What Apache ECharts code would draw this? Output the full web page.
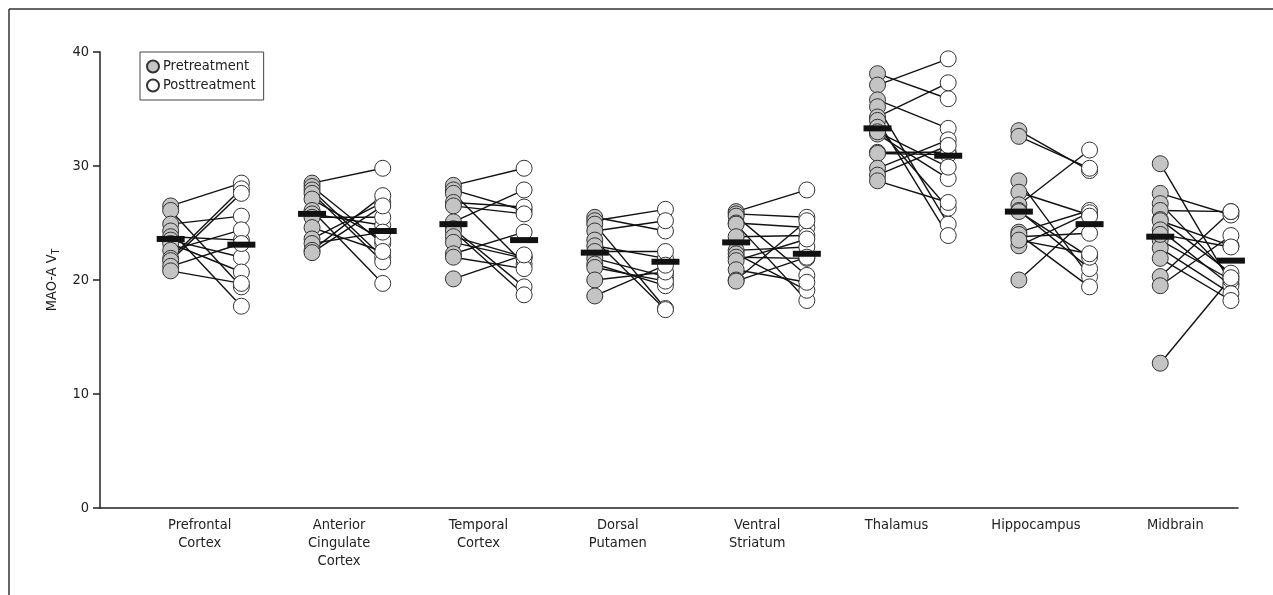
<!DOCTYPE html>
<html><head><meta charset="utf-8">
<script src="https://cdn.jsdelivr.net/npm/echarts@6/dist/echarts.min.js"></script>
<style>html,body{margin:0;padding:0;background:#fff}#c{width:1273px;height:595px}</style>
</head><body><div id="c"></div>
<script>
// ---- data ----
const regions = ['Prefrontal\nCortex', 'Anterior\nCingulate\nCortex', 'Temporal\nCortex', 'Dorsal\nPutamen',
  'Ventral\nStriatum', 'Thalamus', 'Hippocampus', 'Midbrain'];
const yTicks = [0, 10, 20, 30, 40];

const prefrontalPre  = [26.5, 26.1, 24.9, 24.3, 23.8, 23.5, 23.2, 22.6, 21.9, 21.7, 21.2, 20.8];
const prefrontalPost = [28.5, 19.4, 25.6, 17.7, 23.5, 22.0, 20.7, 24.4, 28.0, 27.6, 23.2, 19.7];

const cingulatePre  = [28.5, 28.2, 27.9, 27.6, 27.1, 26.1, 25.8, 25.5, 24.6, 23.6, 23.2, 22.6, 22.4];
const cingulatePost = [29.8, 23.2, 22.0, 21.6, 23.5, 19.7, 24.8, 25.5, 22.5, 26.8, 24.2, 27.4, 26.5];

const temporalPre  = [28.3, 27.9, 27.6, 26.8, 26.5, 25.1, 24.5, 24.3, 23.8, 23.3, 22.3, 22.0, 20.1];
const temporalPost = [29.8, 26.1, 21.4, 26.4, 25.8, 27.9, 19.4, 18.7, 22.0, 21.9, 24.2, 21.0, 22.2];

const putamenPre  = [25.5, 25.2, 24.9, 24.3, 23.5, 23.0, 22.5, 21.9, 21.4, 21.1, 20.0, 18.6];
const putamenPost = [24.3, 26.2, 17.5, 25.2, 17.4, 21.9, 22.5, 20.3, 19.5, 19.9, 20.7, 21.3];

const striatumPre  = [26.0, 25.8, 25.6, 25.0, 24.9, 23.8, 22.6, 22.3, 22.0, 21.7, 20.9, 20.0, 19.9];
const striatumPost = [27.9, 25.5, 20.4, 24.6, 18.2, 23.9, 22.9, 19.1, 21.9, 23.6, 19.8, 25.2, 22.0];

const thalamusPre  = [38.1, 37.1, 35.8, 35.2, 34.3, 34.0, 33.4, 32.8, 31.2, 31.1, 29.8, 29.2, 28.7, 33.0];
const thalamusPost = [35.9, 39.4, 33.3, 24.9, 37.3, 23.9, 26.3, 28.9, 31.2, 31.0, 32.3, 31.8, 26.8, 29.9];

const hippocampusPre  = [33.1, 32.6, 28.7, 27.7, 26.6, 26.1, 26.0, 24.2, 23.8, 23.0, 20.0, 24.0, 23.5];
const hippocampusPost = [29.6, 29.8, 20.3, 25.7, 31.4, 21.0, 22.0, 26.1, 24.1, 25.9, 25.6, 19.4, 22.3];

const midbrainPre  = [30.2, 27.6, 26.7, 26.1, 25.3, 25.2, 24.4, 23.5, 22.8, 21.9, 20.3, 19.5, 12.7, 24.0];
const midbrainPost = [19.7, 25.7, 20.3, 26.0, 20.6, 23.0, 19.5, 20.0, 18.8, 18.2, 26.0, 23.9, 20.2, 22.9];

const preMeans  = [23.6, 25.8, 24.9, 22.4, 23.3, 33.3, 26.0, 23.8];
const postMeans = [23.1, 24.3, 23.5, 21.6, 22.3, 30.9, 24.9, 21.7];

// ---- build ----
const preGroups  = [prefrontalPre, cingulatePre, temporalPre, putamenPre, striatumPre, thalamusPre, hippocampusPre, midbrainPre];
const postGroups = [prefrontalPost, cingulatePost, temporalPost, putamenPost, striatumPost, thalamusPost, hippocampusPost, midbrainPost];
const OFF = 0.5;
const preData = [], postData = [], pairData = [];
preGroups.forEach((arr, g) => {
  arr.forEach((v, k) => {
    const w = postGroups[g][k];
    preData.push([g, v]);
    postData.push([g + OFF, w]);
    pairData.push([g, v, g + OFF, w]);
  });
});
const preMeanData = preMeans.map((v, g) => [g, v]);
const postMeanData = postMeans.map((v, g) => [g + OFF, v]);

const FONT = "'Liberation Sans Narrow', 'DejaVu Sans Condensed', 'Arial Narrow', sans-serif";
const TXT = '#222';
const FS = 14.5;

const chart = echarts.init(document.getElementById('c'), null, {renderer: 'canvas'});
chart.setOption({
  backgroundColor: '#fff',
  animation: false,
  textStyle: {fontFamily: FONT, color: TXT},
  graphic: [
    {type: 'line', shape: {x1: 9, y1: 9, x2: 1273, y2: 9}, style: {stroke: '#333', lineWidth: 1.5}},
    {type: 'line', shape: {x1: 9, y1: 9, x2: 9, y2: 595}, style: {stroke: '#333', lineWidth: 1.5}}
  ],
  legend: {
    left: 140, top: 52, orient: 'vertical',
    data: ['Pretreatment', 'Posttreatment'],
    icon: 'circle', itemWidth: 12, itemHeight: 12, itemGap: 4,
    padding: [7, 8, 7, 6],
    borderColor: '#444', borderWidth: 1,
    textStyle: {fontFamily: FONT, fontSize: FS, color: TXT, padding: [0, 0, 0, -1]}
  },
  grid: [
    {left: 100, right: 35, top: 52, bottom: 87, containLabel: false},
    {left: 130, right: 28, top: 52, bottom: 87, containLabel: false}
  ],
  xAxis: [
    {type: 'value', gridIndex: 0, min: -0.5, max: 7.55,
      axisLine: {show: true, onZero: false, lineStyle: {color: '#222', width: 1.5}},
      axisTick: {show: false}, axisLabel: {show: false}, splitLine: {show: false}},
    {type: 'category', gridIndex: 1, data: regions,
      axisLine: {show: false}, axisTick: {show: false}, splitLine: {show: false},
      axisLabel: {fontFamily: FONT, fontSize: FS, color: TXT, lineHeight: 18, margin: 8}}
  ],
  yAxis: [
    {type: 'value', gridIndex: 0, min: yTicks[0], max: yTicks[yTicks.length - 1], interval: 10,
      axisLine: {show: true, onZero: false, lineStyle: {color: '#222', width: 1.5}},
      axisTick: {show: true, inside: false, length: 7, lineStyle: {color: '#222', width: 1.5}},
      axisLabel: {fontFamily: FONT, fontSize: FS, color: TXT, margin: 11},
      splitLine: {show: false},
      name: '{a|MAO-A V}{b|T}', nameLocation: 'middle', nameGap: 38, nameRotate: 90,
      nameTextStyle: {rich: {
        a: {fontFamily: FONT, fontSize: FS, color: TXT},
        b: {fontFamily: FONT, fontSize: 10, color: TXT, verticalAlign: 'bottom', padding: [8, 0, 0, 0]}
      }}},
    {type: 'value', gridIndex: 1, min: 0, max: 40, show: false}
  ],
  series: [
    {
      type: 'custom', name: 'pairs', xAxisIndex: 0, yAxisIndex: 0, z: 1,
      encode: {x: [0, 2], y: [1, 3]},
      data: pairData,
      renderItem: function (params, api) {
        const p1 = api.coord([api.value(0), api.value(1)]);
        const p2 = api.coord([api.value(2), api.value(3)]);
        return {type: 'line', shape: {x1: p1[0], y1: p1[1], x2: p2[0], y2: p2[1]},
          style: {stroke: '#111', lineWidth: 1.4}};
      },
      silent: true
    },
    {
      type: 'scatter', name: 'Pretreatment', xAxisIndex: 0, yAxisIndex: 0, z: 3,
      symbol: 'circle', symbolSize: 16, data: preData,
      itemStyle: {color: '#c4c4c4', borderColor: '#333', borderWidth: 1, opacity: 1}
    },
    {
      type: 'scatter', name: 'Posttreatment', xAxisIndex: 0, yAxisIndex: 0, z: 3,
      symbol: 'circle', symbolSize: 16, data: postData,
      itemStyle: {color: '#ffffff', borderColor: '#333', borderWidth: 1, opacity: 1}
    },
    {
      type: 'scatter', name: 'preMean', xAxisIndex: 0, yAxisIndex: 0, z: 5,
      symbol: 'rect', symbolSize: [28, 6], data: preMeanData,
      itemStyle: {color: '#111', opacity: 1}
    },
    {
      type: 'scatter', name: 'postMean', xAxisIndex: 0, yAxisIndex: 0, z: 5,
      symbol: 'rect', symbolSize: [28, 6], data: postMeanData,
      itemStyle: {color: '#111', opacity: 1}
    }
  ]
});
</script>
</body></html>
